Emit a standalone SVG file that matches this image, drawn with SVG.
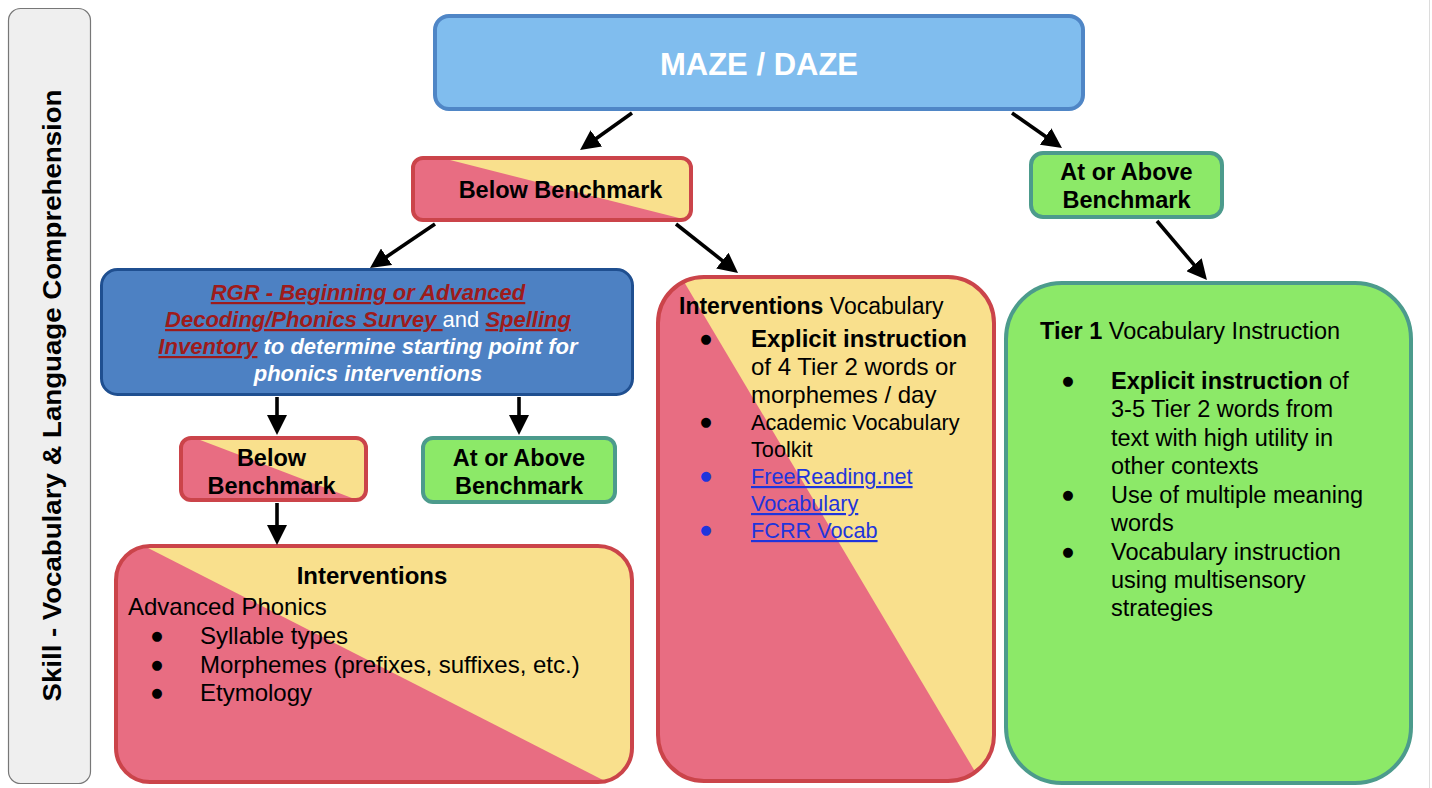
<svg xmlns="http://www.w3.org/2000/svg" width="1432" height="788" viewBox="0 0 1432 788">
<style>
.t{font-family:"Liberation Sans",Arial,sans-serif;fill:#000}
.b{font-weight:bold}
.c{text-anchor:middle}
.w{fill:#fff}
.bul{font-family:"DejaVu Sans",sans-serif;font-size:13px;text-anchor:middle}
.red{fill:#e86d82}
.yel{fill:#f9e08d}
.rs{fill:none;stroke:#cb444a;stroke-width:4}
.grn{fill:#8ce968;stroke:#4c9b8c;stroke-width:4}
.lnk{fill:#1f35dc;text-decoration:underline}
.rl{fill:#9e1b1b;font-weight:bold;font-style:italic;text-decoration:underline}
.wi{fill:#fff;font-weight:bold;font-style:italic}
.conn line{stroke:#000;stroke-width:3.6;marker-end:url(#ah)}
</style>
<defs>
<marker id="ah" markerUnits="userSpaceOnUse" markerWidth="20" markerHeight="20" refX="10" refY="10" orient="auto" viewBox="0 0 20 20">
<path d="M0,0 L20,10 L0,20 z" fill="#000"/>
</marker>
<clipPath id="cBt"><rect x="413" y="158" width="278" height="62" rx="10"/></clipPath>
<clipPath id="cBs"><rect x="181" y="438" width="185" height="62" rx="10"/></clipPath>
<clipPath id="cIb"><rect x="116" y="546" width="516" height="236" rx="34"/></clipPath>
<clipPath id="cIv"><rect x="658" y="277" width="336" height="504" rx="46"/></clipPath>
</defs>
<rect width="1432" height="788" fill="#fff"/>
<line x1="1429.5" y1="0" x2="1429.5" y2="788" stroke="#dcdcdc" stroke-width="1"/>

<g id="skill-label">
<rect x="8.5" y="8.5" width="82" height="775" rx="12" fill="#efefef" stroke="#777" stroke-width="1.2"/>
<text class="t b c" x="0" y="0" font-size="26" textLength="612" lengthAdjust="spacingAndGlyphs" transform="translate(61,395.5) rotate(-90)">Skill - Vocabulary &amp; Language Comprehension</text>
</g>

<g id="maze-daze">
<rect x="435" y="16" width="648" height="93" rx="14" fill="#80bdee" stroke="#4f86c6" stroke-width="4"/>
<text class="t b c w" x="759" y="75" font-size="31">MAZE / DAZE</text>
</g>

<g id="below-benchmark-top">
<rect x="413" y="158" width="278" height="62" rx="10" class="yel"/>
<polygon clip-path="url(#cBt)" class="red" points="405,148.6 700,223.3 700,230 405,230"/>
<rect x="413" y="158" width="278" height="62" rx="10" class="rs"/>
<text class="t b c" x="560.5" y="197.5" font-size="23.5">Below Benchmark</text>
</g>

<g id="at-above-top">
<rect x="1031" y="153" width="191" height="64" rx="12" class="grn"/>
<text class="t b c" x="1126.5" y="179.5" font-size="23.5">At or Above</text>
<text class="t b c" x="1126.5" y="207.5" font-size="23.5">Benchmark</text>
</g>

<g id="rgr-survey">
<rect x="101.5" y="269.5" width="531" height="125" rx="16" fill="#4d81c3" stroke="#1f4f90" stroke-width="3"/>
<text class="t c" x="368" y="300" font-size="22"><tspan class="rl">RGR - Beginning or Advanced</tspan></text>
<text class="t c" x="368" y="327" font-size="22"><tspan class="rl">Decoding/Phonics Survey </tspan><tspan class="w">and</tspan><tspan class="w"> </tspan><tspan class="rl">Spelling</tspan></text>
<text class="t c" x="368" y="354" font-size="22"><tspan class="rl">Inventory</tspan><tspan class="wi"> to determine starting point for</tspan></text>
<text class="t c" x="368" y="381" font-size="22"><tspan class="wi">phonics interventions</tspan></text>
</g>

<g id="below-benchmark-small">
<rect x="181" y="438" width="185" height="62" rx="10" class="yel"/>
<polygon clip-path="url(#cBs)" class="red" points="175,430.4 372,505.7 372,510 175,510"/>
<rect x="181" y="438" width="185" height="62" rx="10" class="rs"/>
<text class="t b c" x="271.5" y="465.5" font-size="23.5">Below</text>
<text class="t b c" x="271.5" y="493.5" font-size="23.5">Benchmark</text>
</g>

<g id="at-above-small">
<rect x="423" y="438" width="192" height="64" rx="10" class="grn"/>
<text class="t b c" x="519" y="465.5" font-size="23.5">At or Above</text>
<text class="t b c" x="519" y="493.5" font-size="23.5">Benchmark</text>
</g>

<g id="interventions-phonics">
<rect x="116" y="546" width="516" height="236" rx="34" class="yel"/>
<polygon clip-path="url(#cIb)" class="red" points="110,528.6 640,798.9 110,800"/>
<rect x="116" y="546" width="516" height="236" rx="34" class="rs"/>
<text class="t b c" x="372" y="583.5" font-size="24">Interventions</text>
<text class="t" x="128" y="615" font-size="24">Advanced Phonics</text>
<text class="bul" x="157" y="640">●</text>
<text class="t" x="200" y="644" font-size="24">Syllable types</text>
<text class="bul" x="157" y="669">●</text>
<text class="t" x="200" y="673" font-size="24">Morphemes (prefixes, suffixes, etc.)</text>
<text class="bul" x="157" y="697">●</text>
<text class="t" x="200" y="701" font-size="24">Etymology</text>
</g>

<g id="interventions-vocabulary">
<rect x="658" y="277" width="336" height="504" rx="46" class="yel"/>
<polygon clip-path="url(#cIv)" class="red" points="677,270 986,790 650,790 650,270"/>
<rect x="658" y="277" width="336" height="504" rx="46" class="rs"/>
<text class="t" x="679" y="314" font-size="23"><tspan class="b">Interventions</tspan> Vocabulary</text>
<text class="bul" x="706" y="343">●</text>
<text class="t b" x="751" y="347" font-size="24">Explicit instruction</text>
<text class="t" x="751" y="375" font-size="24">of 4 Tier 2 words or</text>
<text class="t" x="751" y="403" font-size="24">morphemes / day</text>
<text class="bul" x="706" y="426">●</text>
<text class="t" x="751" y="430" font-size="21.7">Academic Vocabulary</text>
<text class="t" x="751" y="457" font-size="21.7">Toolkit</text>
<text class="bul" x="706" y="480" fill="#1f35dc">●</text>
<text class="t lnk" x="751" y="484" font-size="21.7">FreeReading.net</text>
<text class="t lnk" x="751" y="511" font-size="21.7">Vocabulary</text>
<text class="bul" x="706" y="534" fill="#1f35dc">●</text>
<text class="t lnk" x="751" y="538" font-size="21.7">FCRR Vocab</text>
</g>

<g id="tier1-vocabulary">
<rect x="1006" y="283" width="405" height="500" rx="56" class="grn"/>
<text class="t" x="1040" y="339" font-size="23.5"><tspan class="b">Tier 1</tspan> Vocabulary Instruction</text>
<text class="bul" x="1068" y="385">●</text>
<text class="t" x="1111" y="389" font-size="23.5"><tspan class="b">Explicit instruction</tspan> of</text>
<text class="t" x="1111" y="417" font-size="23.5">3-5 Tier 2 words from</text>
<text class="t" x="1111" y="445.5" font-size="23.5">text with high utility in</text>
<text class="t" x="1111" y="474" font-size="23.5">other contexts</text>
<text class="bul" x="1068" y="498.5">●</text>
<text class="t" x="1111" y="502.5" font-size="23.5">Use of multiple meaning</text>
<text class="t" x="1111" y="530.5" font-size="23.5">words</text>
<text class="bul" x="1068" y="555.5">●</text>
<text class="t" x="1111" y="559.5" font-size="23.5">Vocabulary instruction</text>
<text class="t" x="1111" y="587.5" font-size="23.5">using multisensory</text>
<text class="t" x="1111" y="616" font-size="23.5">strategies</text>
</g>

<g id="connectors" class="conn">
<line x1="632" y1="113" x2="588.2" y2="144.2"/>
<line x1="1012" y1="113" x2="1053.8" y2="142.3"/>
<line x1="435" y1="224" x2="378.3" y2="262.4"/>
<line x1="676" y1="224" x2="730.2" y2="266.8"/>
<line x1="1157" y1="221" x2="1200.5" y2="272.4"/>
<line x1="277" y1="397" x2="277" y2="425"/>
<line x1="519" y1="397" x2="519" y2="425"/>
<line x1="277" y1="503" x2="277" y2="535"/>
</g>
</svg>
